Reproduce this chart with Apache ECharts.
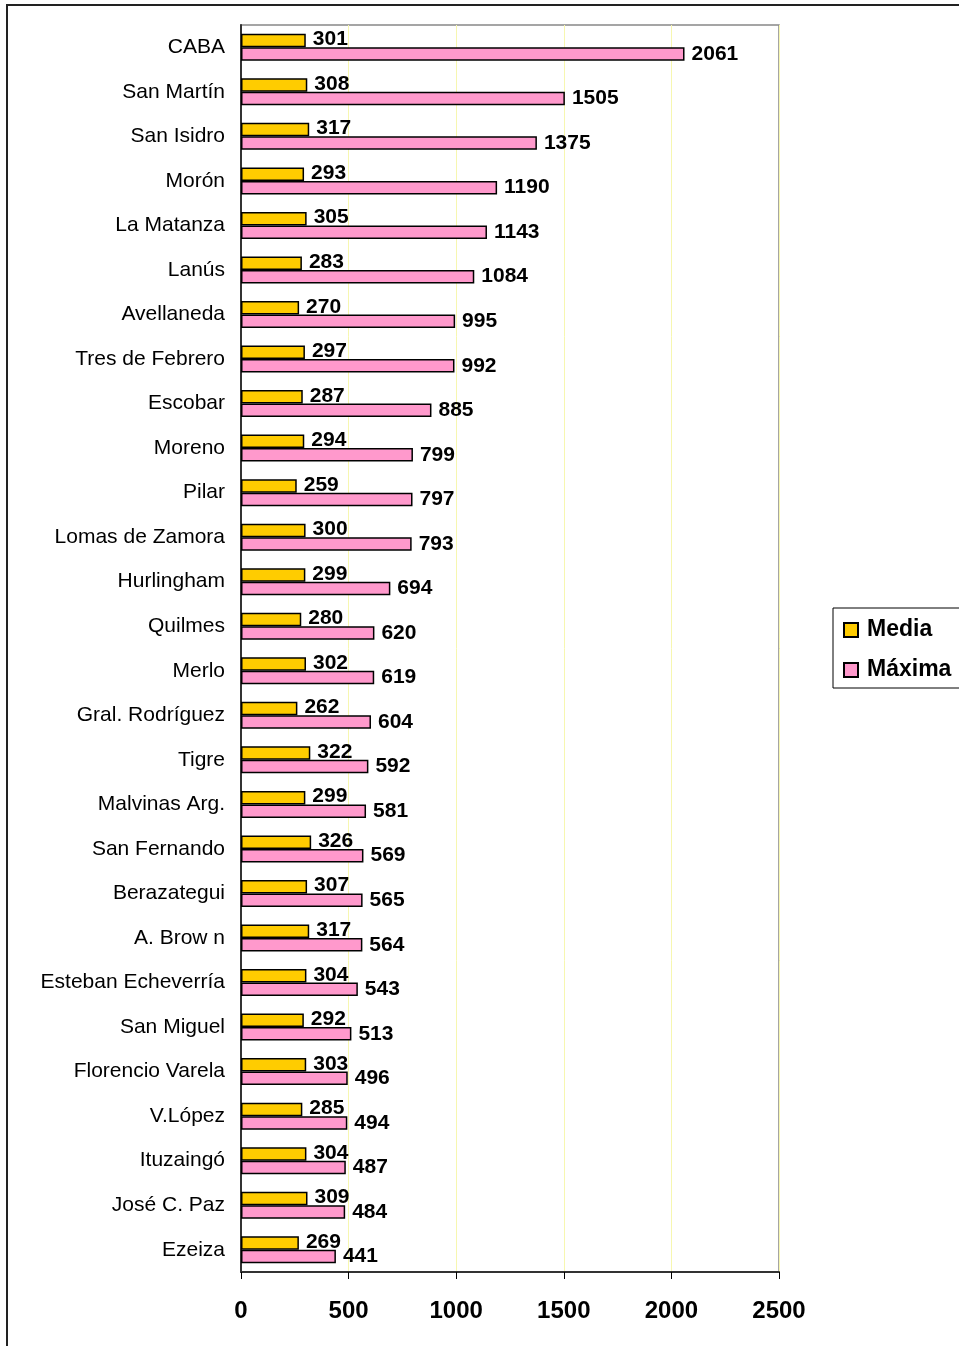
<!DOCTYPE html>
<html><head><meta charset="utf-8">
<script src="https://cdn.jsdelivr.net/npm/echarts@6/dist/echarts.min.js"></script>
<style>html,body{margin:0;padding:0;background:#fff}#c{width:959px;height:1346px}</style>
</head><body><div id="c"></div>
<script>
const categories = ["CABA","San Martín","San Isidro","Morón","La Matanza","Lanús","Avellaneda","Tres de Febrero","Escobar","Moreno","Pilar","Lomas de Zamora","Hurlingham","Quilmes","Merlo","Gral. Rodríguez","Tigre","Malvinas Arg.","San Fernando","Berazategui","A. Brow n","Esteban Echeverría","San Miguel","Florencio Varela","V.López","Ituzaingó","José C. Paz","Ezeiza"];
const media = [301,308,317,293,305,283,270,297,287,294,259,300,299,280,302,262,322,299,326,307,317,304,292,303,285,304,309,269];
const maxima = [2061,1505,1375,1190,1143,1084,995,992,885,799,797,793,694,620,619,604,592,581,569,565,564,543,513,496,494,487,484,441];
const xTicks = [0,500,1000,1500,2000,2500];

const chart = echarts.init(document.getElementById('c'), null, {renderer:'canvas'});
const font = 'Liberation Sans, Arial, sans-serif';
const lbl = {show:true, position:'right', distance:7, fontFamily:font, fontWeight:'bold', fontSize:21, color:'#000'};
chart.setOption({
  animation:false,
  graphic:[
    {type:'polyline', shape:{points:[[7,1346],[7,5],[959,5]]}, style:{stroke:'#222', lineWidth:2, fill:null}, z:100}
  ],
  legend:{
    left:833, top:608, orient:'vertical', data:['Media','Máxima'],
    icon:'rect', itemWidth:14, itemHeight:14, itemGap:16,
    padding:[10,30,6,10], borderColor:'#000', borderWidth:1,
    textStyle:{fontFamily:font, fontWeight:'bold', fontSize:23, color:'#000', lineHeight:24, padding:[0,0,0,4]}
  },
  grid:{left:241, right:180, top:25, bottom:74, show:true, borderColor:'#888', borderWidth:1.5, backgroundColor:'transparent'},
  xAxis:{
    type:'value', min:xTicks[0], max:xTicks[xTicks.length-1], interval:500,
    axisLine:{show:true, lineStyle:{color:'#333', width:2}},
    axisTick:{show:true, length:7, lineStyle:{color:'#000'}},
    splitLine:{show:true, lineStyle:{color:'#f7f7b0', width:1}},
    axisLabel:{fontFamily:font, fontWeight:'bold', fontSize:24, color:'#000', margin:27, formatter:(v)=>String(v)}
  },
  yAxis:{
    type:'category', data:categories, inverse:true,
    axisLine:{show:true, lineStyle:{color:'#333', width:2}},
    axisTick:{show:false},
    axisLabel:{fontFamily:font, fontSize:21, color:'#000', margin:16}
  },
  series:[
    {name:'Media', type:'bar', data:media, barWidth:13.5, barGap:'0%',
     itemStyle:{color:'#FFCC00', borderColor:'#000', borderWidth:1.5},
     label:Object.assign({}, lbl, {offset:[0,-1]})},
    {name:'Máxima', type:'bar', data:maxima, barWidth:13.5, barGap:'0%',
     itemStyle:{color:'#FF99CC', borderColor:'#000', borderWidth:1.5},
     label:lbl}
  ]
});
</script></body></html>
